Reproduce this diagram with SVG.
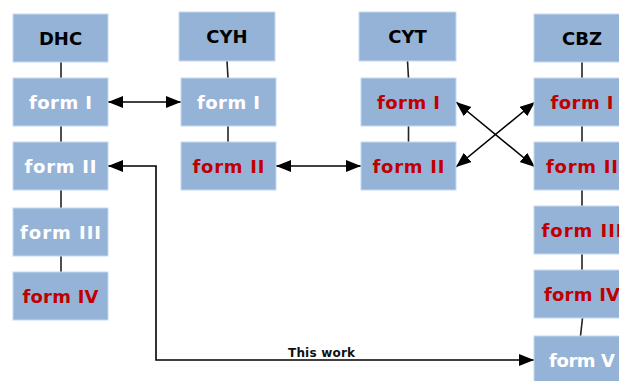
<svg xmlns="http://www.w3.org/2000/svg" width="619" height="381" viewBox="0 0 619 381">
<defs>
<style>
.box{fill:#95b3d7;stroke:#c6d9f1;stroke-width:1}
.t{font-family:"DejaVu Sans","Liberation Sans",sans-serif;font-weight:bold;font-size:18px;text-anchor:middle}
.h{fill:#000}
.w{fill:#fff}
.r{fill:#c00000}
.ln{stroke:#222;stroke-width:1.6;fill:none}
.ar{stroke:#000;stroke-width:1.6;fill:none;marker-end:url(#ah);marker-start:url(#ah)}
.lbl{font-family:"DejaVu Sans","Liberation Sans",sans-serif;font-weight:bold;font-size:12px;fill:#111}
</style>
<marker id="ah" markerUnits="userSpaceOnUse" markerWidth="16" markerHeight="13" refX="15" refY="6" orient="auto-start-reverse">
<path d="M0,0 L15,6 L0,12 Z" fill="#000"/>
</marker>
</defs>
<rect width="619" height="381" fill="#fff"/>
<g id="connectors">
<line class="ln" x1="61" y1="62" x2="61" y2="78"/>
<line class="ln" x1="61" y1="126" x2="61" y2="142"/>
<line class="ln" x1="61" y1="190" x2="61" y2="208"/>
<line class="ln" x1="61" y1="256" x2="61" y2="272"/>
<line class="ln" x1="227" y1="61" x2="228" y2="78"/>
<line class="ln" x1="228" y1="126" x2="228" y2="142"/>
<line class="ln" x1="407.5" y1="61" x2="408.5" y2="78"/>
<line class="ln" x1="408.5" y1="126" x2="408.5" y2="142"/>
<line class="ln" x1="582" y1="62" x2="582" y2="78"/>
<line class="ln" x1="582" y1="126" x2="582" y2="142"/>
<line class="ln" x1="582" y1="190" x2="582" y2="206"/>
<line class="ln" x1="582" y1="254" x2="582" y2="270"/>
<line class="ln" x1="582.5" y1="318" x2="580.5" y2="336"/>
<line class="ar" x1="108" y1="102" x2="181" y2="102"/>
<line class="ar" x1="276" y1="166" x2="361" y2="166"/>
<line class="ar" x1="456" y1="102" x2="535" y2="167"/>
<line class="ar" x1="456" y1="167" x2="535" y2="102"/>
<path class="ar" d="M108,166 H156 V360 H534"/>
<text class="lbl" x="288" y="357" textLength="67" lengthAdjust="spacing">This work</text>
</g>
<g id="dhc"><rect class="box" x="13" y="14" width="95" height="48"/><text class="t h" x="60.5" y="44.5">DHC</text></g>
<g id="dhc-form1"><rect class="box" x="13" y="78" width="95" height="48"/><text class="t w" x="60.5" y="108.5" textLength="63" lengthAdjust="spacing">form I</text></g>
<g id="dhc-form2"><rect class="box" x="13" y="142" width="95" height="48"/><text class="t w" x="60.5" y="172.5" textLength="72" lengthAdjust="spacing">form II</text></g>
<g id="dhc-form3"><rect class="box" x="13" y="208" width="95" height="48"/><text class="t w" x="60.5" y="238.5" textLength="81" lengthAdjust="spacing">form III</text></g>
<g id="dhc-form4"><rect class="box" x="13" y="272" width="95" height="48"/><text class="t r" x="60.5" y="302.5" textLength="76" lengthAdjust="spacing">form IV</text></g>
<g id="cyh"><rect class="box" x="179" y="12" width="96" height="49"/><text class="t h" x="227" y="43">CYH</text></g>
<g id="cyh-form1"><rect class="box" x="181" y="78" width="95" height="48"/><text class="t w" x="228.5" y="108.5" textLength="63" lengthAdjust="spacing">form I</text></g>
<g id="cyh-form2"><rect class="box" x="181" y="142" width="95" height="48"/><text class="t r" x="228.5" y="172.5" textLength="72" lengthAdjust="spacing">form II</text></g>
<g id="cyt"><rect class="box" x="359" y="12" width="97" height="49"/><text class="t h" x="407.5" y="43">CYT</text></g>
<g id="cyt-form1"><rect class="box" x="361" y="78" width="95" height="48"/><text class="t r" x="408.5" y="108.5" textLength="63" lengthAdjust="spacing">form I</text></g>
<g id="cyt-form2"><rect class="box" x="361" y="142" width="95" height="48"/><text class="t r" x="408.5" y="172.5" textLength="72" lengthAdjust="spacing">form II</text></g>
<g id="cbz"><rect class="box" x="534" y="14" width="96" height="48"/><text class="t h" x="582" y="44.5">CBZ</text></g>
<g id="cbz-form1"><rect class="box" x="534" y="78" width="96" height="48"/><text class="t r" x="582" y="108.5" textLength="63" lengthAdjust="spacing">form I</text></g>
<g id="cbz-form2"><rect class="box" x="534" y="142" width="96" height="48"/><text class="t r" x="582" y="172.5" textLength="72" lengthAdjust="spacing">form II</text></g>
<g id="cbz-form3"><rect class="box" x="534" y="206" width="96" height="48"/><text class="t r" x="582" y="236.5" textLength="81" lengthAdjust="spacing">form III</text></g>
<g id="cbz-form4"><rect class="box" x="534" y="270" width="96" height="48"/><text class="t r" x="582" y="300.5" textLength="76" lengthAdjust="spacing">form IV</text></g>
<g id="cbz-form5"><rect class="box" x="534" y="336" width="96" height="48"/><text class="t w" x="582" y="366.5" textLength="66" lengthAdjust="spacing">form V</text></g>
</svg>
